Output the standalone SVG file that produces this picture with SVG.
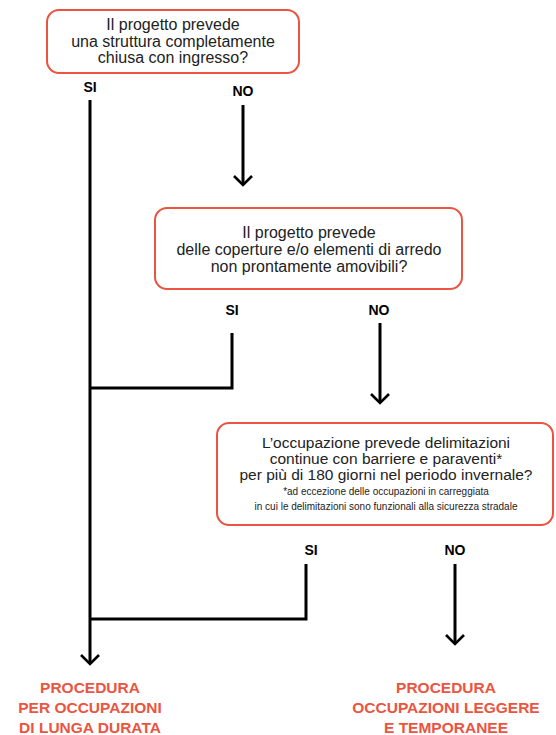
<svg xmlns="http://www.w3.org/2000/svg" width="556" height="735" viewBox="0 0 556 735">
<defs>
<style>
.box{fill:#fff;stroke:#ea5440;stroke-width:2}
.q{font-family:"Liberation Sans",Arial,sans-serif;font-size:16px;fill:#222;text-anchor:middle}
.q3{font-family:"Liberation Sans",Arial,sans-serif;font-size:15.5px;fill:#222;text-anchor:middle}
.s{font-family:"Liberation Sans",Arial,sans-serif;font-size:10px;fill:#222;text-anchor:middle}
.lbl{font-family:"Liberation Sans",Arial,sans-serif;font-size:14px;font-weight:bold;fill:#000;text-anchor:middle}
.out{font-family:"Liberation Sans",Arial,sans-serif;font-size:15.5px;font-weight:bold;fill:#ea5440;text-anchor:middle}
.ln{fill:none;stroke:#000;stroke-width:3}
</style>
<marker id="ah" viewBox="0 0 12 20" refX="10" refY="10" markerWidth="12" markerHeight="20" markerUnits="userSpaceOnUse" orient="auto">
<path d="M1,1 L10,10 L1,19" fill="none" stroke="#000" stroke-width="2.6"/>
</marker>
</defs>
<rect width="556" height="735" fill="#fff"/>
<g id="q1">
<rect class="box" x="47" y="10" width="252" height="63" rx="12"/>
<text class="q" x="173" y="30">Il progetto prevede</text>
<text class="q" x="173" y="47">una struttura completamente</text>
<text class="q" x="173" y="63">chiusa con ingresso?</text>
</g>
<g id="q2">
<rect class="box" x="155" y="208" width="307" height="81" rx="12"/>
<text class="q" x="309" y="238">Il progetto prevede</text>
<text class="q" x="309" y="255">delle coperture e/o elementi di arredo</text>
<text class="q" x="309" y="272">non prontamente amovibili?</text>
</g>
<g id="q3">
<rect class="box" x="217" y="423" width="336" height="102" rx="12"/>
<text class="q3" x="386" y="448">L’occupazione prevede delimitazioni</text>
<text class="q3" x="386" y="464">continue con barriere e paraventi*</text>
<text class="q3" x="386" y="480">per più di 180 giorni nel periodo invernale?</text>
<text class="s" x="386" y="495">*ad eccezione delle occupazioni in carreggiata</text>
<text class="s" x="386" y="510">in cui le delimitazioni sono funzionali alla sicurezza stradale</text>
</g>
<g id="labels">
<text class="lbl" x="90" y="92">SI</text>
<text class="lbl" x="243" y="96">NO</text>
<text class="lbl" x="232" y="315">SI</text>
<text class="lbl" x="379" y="315">NO</text>
<text class="lbl" x="311" y="555">SI</text>
<text class="lbl" x="455" y="555">NO</text>
</g>
<g id="out1">
<text class="out" x="90" y="693">PROCEDURA</text>
<text class="out" x="90" y="713">PER OCCUPAZIONI</text>
<text class="out" x="90" y="733">DI LUNGA DURATA</text>
</g>
<g id="out2">
<text class="out" x="446" y="693">PROCEDURA</text>
<text class="out" x="446" y="713">OCCUPAZIONI LEGGERE</text>
<text class="out" x="446" y="733">E TEMPORANEE</text>
</g>
<g id="connectors">
<path class="ln" d="M90,100 V664" marker-end="url(#ah)"/>
<path class="ln" d="M243,105 V185" marker-end="url(#ah)"/>
<path class="ln" d="M232,333 V388 H90"/>
<path class="ln" d="M380,323 V403" marker-end="url(#ah)"/>
<path class="ln" d="M306,564 V619 H90"/>
<path class="ln" d="M455,564 V644" marker-end="url(#ah)"/>
</g>
</svg>
